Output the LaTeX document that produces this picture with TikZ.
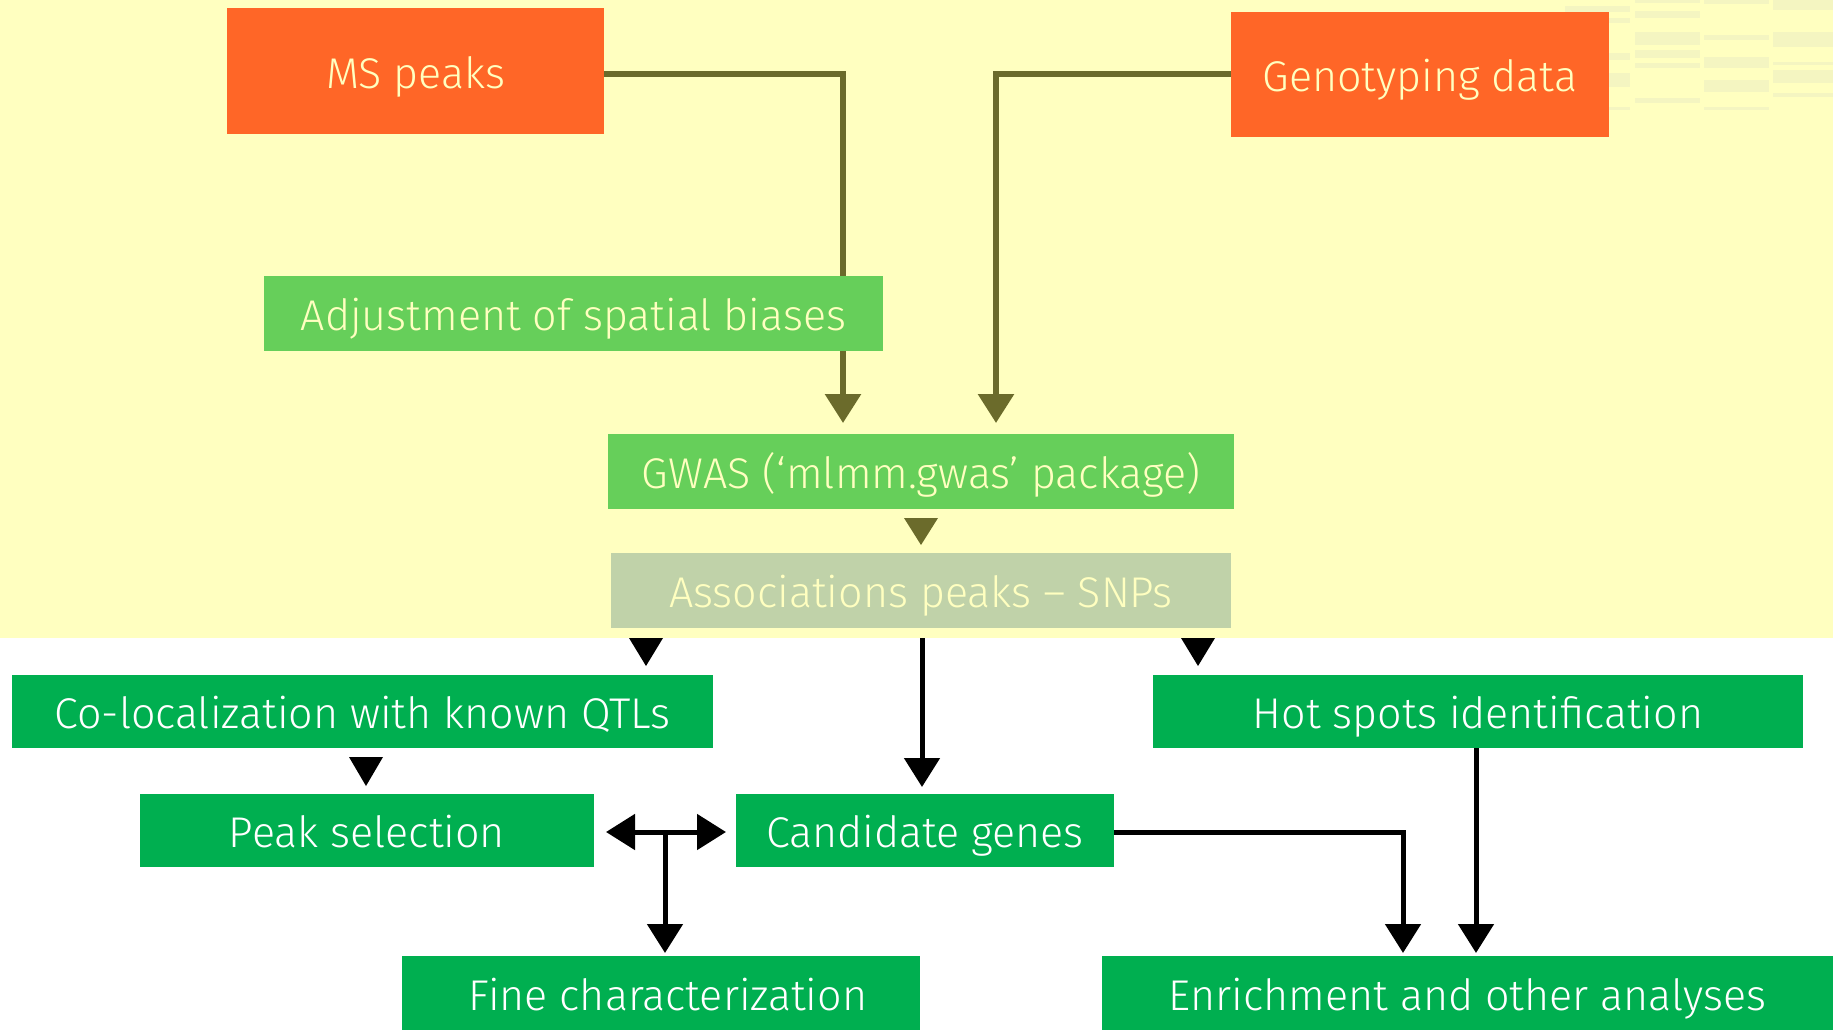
\documentclass[tikz,border=0pt]{standalone}
\usepackage{fontspec}
\setmainfont{Fira Sans Light}
\usetikzlibrary{arrows.meta,calc}

\definecolor{bgyellow}{HTML}{FFFFC0}
\definecolor{faint}{HTML}{F4F5C1}
\definecolor{orangebox}{HTML}{FF6627}
\definecolor{lightgreen}{HTML}{66CF5A}
\definecolor{darkgreen}{HTML}{00AF50}
\definecolor{assocgray}{HTML}{C0D2A9}
\definecolor{olive}{HTML}{6B6B2B}
\definecolor{paletext}{HTML}{FFFFC0}

\tikzset{
  box/.style={inner sep=0pt, outer sep=0pt, text height=34.5pt, text depth=0pt,
    font=\fontsize{43}{48}\selectfont},
  inputbox/.style={box, fill=orangebox, text=paletext},
  stepbox/.style={box, fill=lightgreen, text=paletext},
  resultbox/.style={box, fill=assocgray, text=paletext},
  outbox/.style={box, fill=darkgreen, text=white},
  oliveline/.style={draw=olive, line width=6pt, -{Triangle[length=29pt,width=35pt]}},
  blackline/.style={draw=black, line width=5pt, -{Triangle[length=29pt,width=35pt]}},
}

\begin{document}
\begin{tikzpicture}[x=1pt, y=-1pt]
  \useasboundingbox (0,0) rectangle (1833,1030);
  % upper panel background
  \fill[bgyellow] (0,0) rectangle (1833,638);

  % faded table in the upper right corner
  \begin{scope}[fill=faint]
    \fill (1565,6) rectangle (1630,12);
    \fill (1565,18) rectangle (1630,23);
    \fill (1565,53) rectangle (1630,60);
    \fill (1565,73) rectangle (1630,87);
    \fill (1565,107) rectangle (1630,110);
    \fill (1635,0) rectangle (1700,3);
    \fill (1635,11) rectangle (1700,18);
    \fill (1635,32) rectangle (1700,45);
    \fill (1635,50) rectangle (1700,58);
    \fill (1635,63) rectangle (1700,68);
    \fill (1635,98) rectangle (1700,103);
    \fill (1704,0) rectangle (1769,4);
    \fill (1704,35) rectangle (1769,40);
    \fill (1704,57) rectangle (1769,68);
    \fill (1704,80) rectangle (1769,92);
    \fill (1704,107) rectangle (1769,110);
    \fill (1773,0) rectangle (1833,10);
    \fill (1773,32) rectangle (1833,47);
    \fill (1773,62) rectangle (1833,65);
    \fill (1773,70) rectangle (1833,83);
    \fill (1773,93) rectangle (1833,97);
  \end{scope}

  % input boxes
  \node[inputbox, minimum width=377pt, minimum height=126pt] (ms) at (415.5,71) {MS peaks};
  \node[inputbox, minimum width=378pt, minimum height=125pt] (geno) at (1420,74.5) {Genotyping data};

  % turning points and free ends of connectors
  \coordinate (msturn) at (843,74);
  \coordinate (msend) at (843,423);
  \coordinate (genoturn) at (996,74);
  \coordinate (genoend) at (996,423);

  % inputs into the association study (the adjustment box sits on top of the first one)
  \draw[oliveline] (ms.east |- msturn) -- (msturn) -- (msend);
  \draw[oliveline] (geno.west |- genoturn) -- (genoturn) -- (genoend);

  % processing and result boxes
  \node[stepbox, minimum width=619pt, minimum height=75pt] (adj) at (573.5,313.5) {Adjustment of spatial biases};
  \node[stepbox, minimum width=626pt, minimum height=75pt] (gwas) at (921,471.5) {GWAS (‘mlmm.gwas’ package)};
  \node[resultbox, minimum width=620pt, minimum height=75pt] (assoc) at (921,590.5) {Associations peaks – SNPs};
  \node[outbox, minimum width=701pt, minimum height=73pt] (coloc) at (362.5,711.5) {Co-localization with known QTLs};
  \node[outbox, minimum width=650pt, minimum height=73pt] (hot) at (1478,711.5) {Hot spots identification};
  \node[outbox, minimum width=454pt, minimum height=73pt] (peak) at (367,830.5) {Peak selection};
  \node[outbox, minimum width=378pt, minimum height=73pt] (cand) at (925,830.5) {Candidate genes};
  \node[outbox, minimum width=518pt, minimum height=74pt] (fine) at (661,993) {\hspace*{14pt}Fine characterization};
  \node[outbox, minimum width=731pt, minimum height=74pt] (enrich) at (1467.5,993) {Enrichment and other analyses};

  \coordinate (candturn) at (1403,832);
  \coordinate (candend) at (1403,953);
  \coordinate (hotend) at (1476,953);
  \coordinate (branch) at (665,832);
  \coordinate (fineend) at (665,953);
  \coordinate (peakend) at (606,832);
  \coordinate (candleft) at (726,832);
  \coordinate (assocout) at (922,638);
  \coordinate (candin) at (922,787);

  % stand-alone arrow heads between stacked boxes
  \fill[olive] ($(gwas.south)+(-17,9)$) -- ($(gwas.south)+(17,9)$) -- ($(gwas.south)+(0,36)$) -- cycle;
  \fill[black] ($(assoc.south west)+(35,10)+(-17,0)$) -- ($(assoc.south west)+(35,10)+(17,0)$) -- ($(assoc.south west)+(35,10)+(0,28)$) -- cycle;
  \fill[black] ($(assoc.south east)+(-33,10)+(-17,0)$) -- ($(assoc.south east)+(-33,10)+(17,0)$) -- ($(assoc.south east)+(-33,10)+(0,28)$) -- cycle;
  \fill[black] ($(coloc.south)+(3.5,9)+(-17,0)$) -- ($(coloc.south)+(3.5,9)+(17,0)$) -- ($(coloc.south)+(3.5,9)+(0,29)$) -- cycle;

  % from the associations to the candidate genes
  \draw[blackline] (assocout) -- (candin);

  % peak selection <-> candidate genes, and down to fine characterization
  \draw[line width=5pt, {Triangle[length=29pt,width=35pt]}-{Triangle[length=29pt,width=35pt]}] (peakend) -- (candleft);
  \draw[blackline] (branch) -- (fineend);

  % towards the enrichment analyses
  \draw[blackline] (cand.east |- candturn) -- (candturn) -- (candend);
  \draw[blackline] (hot.south -| hotend) -- (hotend);
\end{tikzpicture}
\end{document}
